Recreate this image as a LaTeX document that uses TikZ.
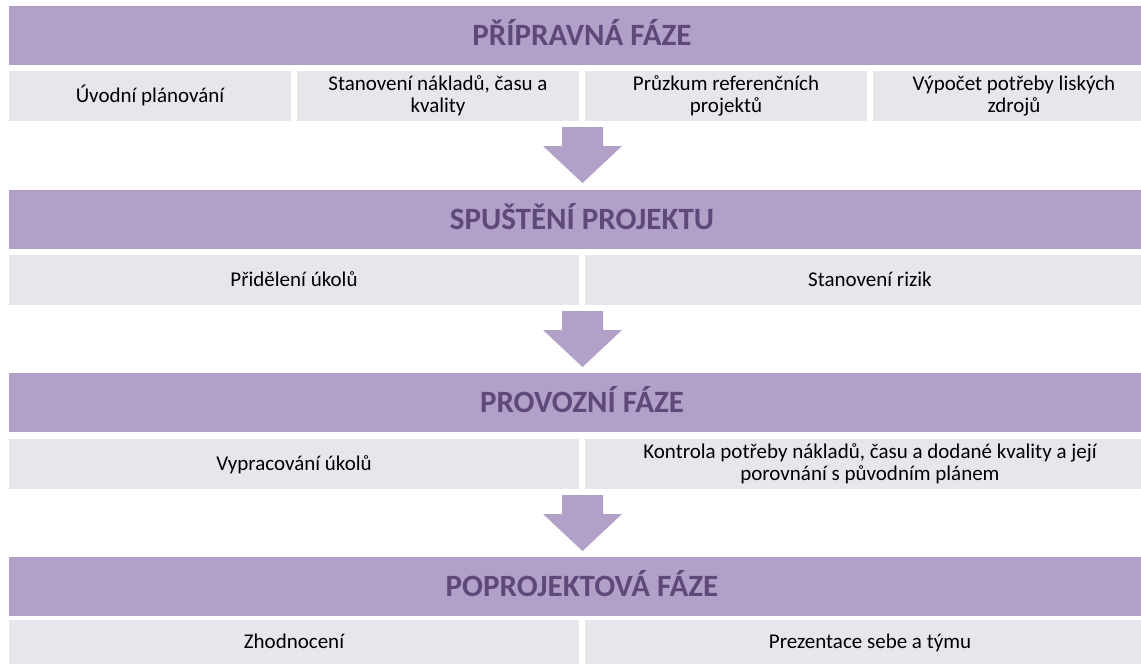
\documentclass[tikz,border=0pt]{standalone}
\usepackage{fontspec}
\setmainfont{Carlito}
\usepackage{tikz}
\usepackage{xcolor}

\definecolor{phasepurple}{HTML}{B1A0C7}
\definecolor{phasetext}{HTML}{5F497A}
\definecolor{taskgray}{HTML}{E8E6ED}

\begin{document}
\begin{tikzpicture}[x=0.5pt,y=-0.5pt,
  phase/.style={fill=phasepurple,inner sep=0pt,minimum width=573pt,minimum height=29.5pt,
    text=phasetext,font=\fontsize{15.5}{18}\selectfont\bfseries,text height=9.8pt,text depth=0pt},
  task/.style={fill=taskgray,inner sep=0pt,minimum height=25pt,align=center,
    font=\fontsize{10.5}{10.8}\selectfont},
  oneline/.style={text height=6.6pt,text depth=0pt},
  quarter/.style={task,minimum width=141pt},
  half/.style={task,minimum width=285pt},
  blockarrow/.style={fill=phasepurple,draw=none}]
\useasboundingbox (0,0) rectangle (1141,664);
\clip (0,0) rectangle (1141,664);

\node[phase] (prip) at (582,35.5) {PŘÍPRAVNÁ FÁZE};
\node[quarter,oneline] (plan) at (150,96) {Úvodní plánování};
\node[quarter] (naklady) at (438,96) {Stanovení nákladů, času a\\kvality};
\node[quarter] (pruzkum) at (726,96) {Průzkum referenčních\\projektů};
\node[quarter] (zdroje) at (1014,96) {Výpočet potřeby liských\\zdrojů};

\node[phase] (spust) at (582,219.5) {SPUŠTĚNÍ PROJEKTU};
\node[half,oneline] (ukoly) at (294,280) {Přidělení úkolů};
\node[half,oneline] (rizika) at (870,280) {Stanovení rizik};

\node[phase] (provoz) at (582,402.5) {PROVOZNÍ FÁZE};
\node[half,oneline] (vyprac) at (294,463.5) {Vypracování úkolů};
\node[half] (kontrola) at (870,463.5) {Kontrola potřeby nákladů, času a dodané kvality a její\\porovnání s původním plánem};

\node[phase] (poproj) at (582,586.5) {POPROJEKTOVÁ FÁZE};
\node[half,oneline,minimum height=22pt] (zhodn) at (294,642) {Zhodnocení};
\node[half,oneline,minimum height=22pt] (prezent) at (870,642) {Prezentace sebe a týmu};

% arrows between the phases
\foreach \t in {127,311,495}
  \fill[blockarrow] (562,\t) -- (603,\t) -- (603,\t+19) -- (622,\t+19)
    -- (582.5,\t+56) -- (543,\t+19) -- (562,\t+19) -- cycle;

\end{tikzpicture}
\end{document}
